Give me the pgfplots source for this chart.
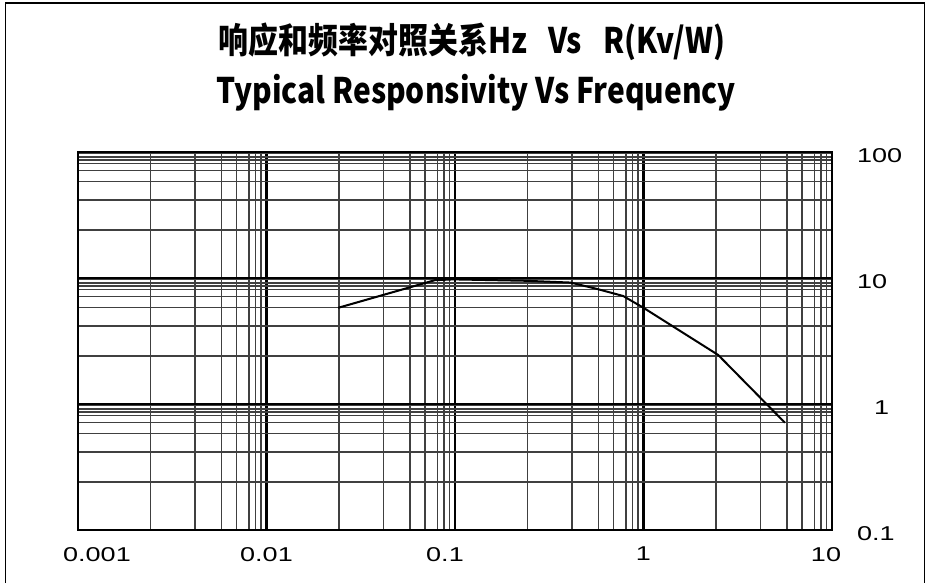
\documentclass[border=0pt]{standalone}
\usepackage{pgfplots}
\pgfplotsset{compat=1.18}
\usepackage{fontspec}
\newfontfamily\titlefont[FakeStretch=0.85]{Noto Sans CJK SC}
\newfontfamily\tickfont[FakeStretch=1.35]{Liberation Sans}

\begin{document}
\begin{tikzpicture}
\path[use as bounding box] (0,0) rectangle (464.5pt,291.5pt);
\draw[line width=0.6pt] (2.75pt,0) -- (2.75pt,290pt) -- (462.25pt,290pt) -- (462.25pt,0);
\node[font=\titlefont\bfseries\fontsize{17.6}{20}\selectfont] at (236pt,270.5pt) {响应和频率对照关系Hz\hspace{0.6em}Vs\hspace{0.6em}R(Kv/W)};
\node[font=\titlefont\bfseries\fontsize{17.6}{20}\selectfont] at (238pt,245pt) {Typical Responsivity Vs Frequency};
\begin{axis}[
  at={(39pt,26.5pt)}, anchor=south west,
  scale only axis, width=377pt, height=189pt,
  xmode=log, ymode=log,
  xmin=0.001, xmax=10, ymin=0.1, ymax=100,
  xtick={0.001,0.01,0.1,1,10},
  xticklabels={\hbox{\hspace*{19pt}0.001},\hbox{0.01},\hbox{0.1\hspace*{10pt}},\hbox{1},\hbox{10\hspace*{6pt}}},
  ytick={0.1,1,10,100},
  yticklabels={\hbox{0.1},\hbox{\hspace*{8.5pt}1},\hbox{10},\hbox{100}},
  yticklabel pos=right,
  minor xtick={0.00243,0.00417,0.00578,0.00692,0.00809,0.00873,0.00933,
               0.0243,0.0417,0.0578,0.0692,0.0809,0.0873,0.0933,
               0.243,0.417,0.578,0.692,0.809,0.873,0.933,
               2.43,4.17,5.78,6.92,8.09,8.73,9.33},
  minor ytick={0.241,0.415,0.583,0.711,0.811,0.861,0.914,0.970,
               2.41,4.15,5.83,7.11,8.11,8.61,9.14,9.70,
               24.1,41.5,58.3,71.1,81.1,86.1,91.4,97.0},
  grid=both,
  major grid style={black, line width=1.2pt},
  minor grid style={black!75, line width=0.7pt},
  major tick length=0pt, minor tick length=0pt,
  axis line style={black, line width=0.8pt},
  xticklabel style={font=\tickfont\fontsize{10}{12}\selectfont, yshift=-5pt},
  yticklabel style={font=\tickfont\fontsize{10}{12}\selectfont, anchor=west, xshift=9pt, yshift=-2pt},
]
\addplot[black, line width=1pt] coordinates {
  (0.024,5.8) (0.078,9.6) (0.098,9.75) (0.24,9.5) (0.41,9.2)
  (0.565,8.2) (0.78,7.2) (1.0,5.8) (2.49,2.45) (5.63,0.71)
};
\end{axis}
\end{tikzpicture}
\end{document}
